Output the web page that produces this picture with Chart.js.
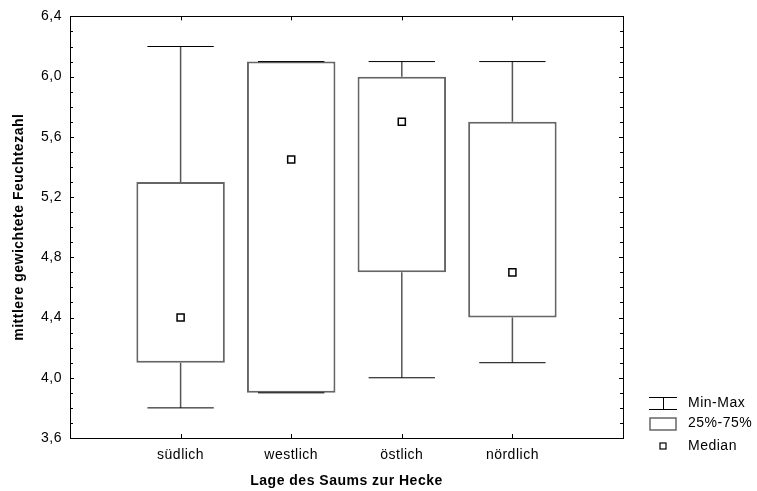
<!DOCTYPE html>
<html>
<head>
<meta charset="utf-8">
<script src="https://cdn.jsdelivr.net/npm/chart.js@4/dist/chart.umd.min.js"></script>
<style>
html,body{margin:0;padding:0;background:#fff;}
#wrap{width:757px;height:491px;position:relative;}
canvas{display:block;}
</style>
</head>
<body>
<div id="wrap"><canvas id="c" width="757" height="491" style="width:757px;height:491px"></canvas></div>
<script>
// ---- data ----
const categories = ['südlich', 'westlich', 'östlich', 'nördlich'];
const minValues    = [3.8, 3.9, 4.0, 4.1];
const q1Values     = [4.1, 3.9, 4.7, 4.4];
const medianValues = [4.4, 5.45, 5.7, 4.7];
const q3Values     = [5.3, 6.1, 6.0, 5.7];
const maxValues    = [6.2, 6.1, 6.1, 6.1];
const yTickValues  = [3.6, 4.0, 4.4, 4.8, 5.2, 5.6, 6.0, 6.4];
const yTickLabels  = ['3,6', '4,0', '4,4', '4,8', '5,2', '5,6', '6,0', '6,4'];
const legendLabels = ['Min-Max', '25%-75%', 'Median'];
const xTitle = 'Lage des Saums zur Hecke';
const yTitle = 'mittlere gewichtete Feuchtezahl';

// ---- styles ----
const CAP_HALF = 0.3;
const FONT = '"Liberation Sans", Arial, sans-serif';

const pos = categories.map((c, i) => i + 1);

const boxData = pos.map((x, i) => ({ x: x, y: [q1Values[i], q3Values[i]] }));
const whiskerData = [];
const capData = [];
pos.forEach((x, i) => {
  whiskerData.push({ x: x, y: maxValues[i] }, { x: x, y: q3Values[i] }, { x: x, y: null },
                   { x: x, y: q1Values[i] }, { x: x, y: minValues[i] }, { x: x, y: null });
  capData.push({ x: x - CAP_HALF, y: maxValues[i] }, { x: x + CAP_HALF, y: maxValues[i] }, { x: x, y: null },
               { x: x - CAP_HALF, y: minValues[i] }, { x: x + CAP_HALF, y: minValues[i] }, { x: x, y: null });
});
const medianData = pos.map((x, i) => ({ x: x, y: medianValues[i] }));

const framePlugin = {
  id: 'frame',
  beforeDraw(chart) {
    chart.ctx.letterSpacing = '0.5px';
  },
  afterDraw(chart) {
    const ctx = chart.ctx;
    const a = chart.chartArea;
    const xs = chart.scales.x, ys = chart.scales.y;
    ctx.save();
    ctx.strokeStyle = '#000';
    ctx.lineWidth = 1;
    ctx.strokeRect(Math.round(a.left) + 0.5, Math.round(a.top) + 0.5,
                   Math.round(a.right - a.left), Math.round(a.bottom - a.top));
    ctx.beginPath();
    ys.ticks.forEach(t => {
      const py = Math.round(ys.getPixelForValue(t.value)) + 0.5;
      const major = yTickValues.some(v => Math.abs(v - t.value) < 1e-6);
      const len = major ? 4 : 3;
      ctx.moveTo(a.left, py); ctx.lineTo(a.left + len, py);
      ctx.moveTo(a.right, py); ctx.lineTo(a.right - len, py);
    });
    xs.ticks.forEach(t => {
      const px = Math.round(xs.getPixelForValue(t.value)) + 0.5;
      ctx.moveTo(px, a.top); ctx.lineTo(px, a.top + 4);
      ctx.moveTo(px, a.bottom); ctx.lineTo(px, a.bottom - 4);
    });
    ctx.stroke();

    // legend
    const lx = a.right + 26, lw = 28, tx = a.right + 65;
    const y1 = a.bottom - 35, y2 = a.bottom - 14.5, y3 = a.bottom + 8;
    ctx.strokeStyle = '#000';
    ctx.lineWidth = 1;
    ctx.beginPath();
    ctx.moveTo(lx, Math.round(y1 - 6) + 0.5); ctx.lineTo(lx + lw, Math.round(y1 - 6) + 0.5);
    ctx.moveTo(lx, Math.round(y1 + 6) + 0.5); ctx.lineTo(lx + lw, Math.round(y1 + 6) + 0.5);
    ctx.moveTo(Math.round(lx + lw / 2) + 0.5, Math.round(y1 - 6)); ctx.lineTo(Math.round(lx + lw / 2) + 0.5, Math.round(y1 + 6));
    ctx.stroke();
    ctx.strokeStyle = '#666';
    ctx.lineWidth = 1.5;
    ctx.strokeRect(lx + 1, Math.round(y2 - 6), lw - 2, 12);
    ctx.strokeStyle = '#000';
    ctx.lineWidth = 1.2;
    ctx.fillStyle = '#fff';
    ctx.fillRect(Math.round(lx + lw / 2) - 3, Math.round(y3) - 3, 6, 6);
    ctx.strokeRect(Math.round(lx + lw / 2) - 3, Math.round(y3) - 3, 6, 6);
    ctx.fillStyle = '#000';
    ctx.font = '14px ' + FONT;
    ctx.textAlign = 'left';
    ctx.textBaseline = 'middle';
    ctx.fillText(legendLabels[0], tx, y1);
    ctx.fillText(legendLabels[1], tx, y2);
    ctx.fillText(legendLabels[2], tx, y3);
    ctx.restore();
  }
};

new Chart(document.getElementById('c'), {
  type: 'bar',
  data: {
    datasets: [
      {
        type: 'line', data: whiskerData, borderColor: '#555', borderWidth: 1.5,
        pointRadius: 0, spanGaps: false, order: 4
      },
      {
        type: 'bar', data: boxData, backgroundColor: '#fff', borderColor: '#666',
        borderWidth: 2, borderSkipped: false, categoryPercentage: 1, barPercentage: 0.8,
        grouped: false, order: 3
      },
      {
        type: 'line', data: capData, borderColor: '#000', borderWidth: 1,
        pointRadius: 0, spanGaps: false, order: 2
      },
      {
        type: 'line', data: medianData, showLine: false, pointStyle: 'rect',
        pointRadius: 5, pointBackgroundColor: '#fff', pointBorderColor: '#000',
        pointBorderWidth: 1.5, order: 1
      }
    ]
  },
  options: {
    responsive: false,
    animation: false,
    devicePixelRatio: 1,
    layout: { padding: { top: 15, right: 134, bottom: 0, left: 0 } },
    plugins: { legend: { display: false }, tooltip: { enabled: false } },
    scales: {
      x: {
        type: 'linear', min: 0, max: 5, offset: false,
        grid: { display: false, drawTicks: false },
        border: { display: false },
        afterBuildTicks(scale) { scale.ticks = pos.map(v => ({ value: v })); },
        afterFit(scale) { scale.height = 53; },
        ticks: {
          autoSkip: false, maxRotation: 0, padding: 9, color: '#000',
          font: { family: FONT, size: 14 },
          callback: (v) => categories[Math.round(v) - 1] || ''
        },
        title: {
          display: true, text: xTitle, color: '#000',
          font: { family: FONT, size: 14, weight: 'bold' },
          padding: { top: 4, bottom: 1 }
        }
      },
      y: {
        type: 'linear', min: 3.6, max: 6.4,
        grid: { display: false, drawTicks: false },
        border: { display: false },
        afterFit(scale) { scale.width = 70; },
        ticks: {
          stepSize: 0.1, autoSkip: false, padding: 8, color: '#000',
          font: { family: FONT, size: 14 },
          callback: (v) => {
            const k = yTickValues.findIndex(t => Math.abs(t - v) < 1e-6);
            return k >= 0 ? yTickLabels[k] : '';
          }
        },
        title: {
          display: true, text: yTitle, color: '#000',
          font: { family: FONT, size: 14, weight: 'bold' },
          padding: { top: 11, bottom: 0 }
        }
      }
    }
  },
  plugins: [framePlugin]
});
</script>
</body>
</html>
